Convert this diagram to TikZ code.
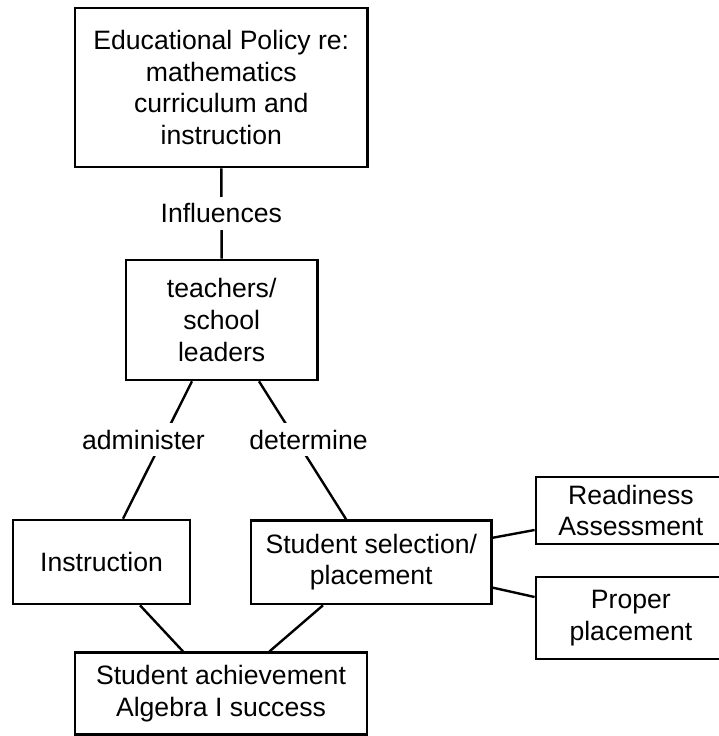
\documentclass[tikz,border=0pt]{standalone}
\usepackage{fontspec}
\setmainfont{Liberation Sans}
\usetikzlibrary{calc}
\begin{document}
\begin{tikzpicture}[x=0.5pt,y=-0.5pt,
  every node/.style={font=\fontsize{13.3}{15.8}\selectfont, align=center, inner sep=0pt},
  box/.style={draw, line width=1.3pt, rectangle},
  rel/.style={fill=white, minimum height=16.5pt, inner xsep=3pt},
  link/.style={line width=1.2pt}]
\useasboundingbox (0,0) rectangle (719,736);
\clip (0,0) rectangle (719,736);

% boxes
\node[box, minimum width=146.4pt, minimum height=79.5pt] (policy) at (221.3,87.5)
  {Educational Policy re:\\mathematics\\curriculum and\\instruction};
\node[box, minimum width=95.7pt, minimum height=60pt] (teach) at (221.7,320)
  {teachers/\\school\\leaders};
\node[box, minimum width=88.5pt, minimum height=42pt] (instr) at (101.5,562)
  {Instruction};
\node[box, minimum width=120.4pt, minimum height=41.8pt] (ssel) at (371.3,562.2)
  {Student selection/\\placement};
\node[box, minimum width=95pt, minimum height=33.5pt] (ready) at (630.9,510.5)
  {Readiness\\Assessment};
\node[box, minimum width=95pt, minimum height=41pt] (proper) at (630.9,618)
  {Proper\\placement};
\node[box, minimum width=146pt, minimum height=40.9pt] (achieve) at (221,693.6)
  {Student achievement\\Algebra I success};

% connectors
\draw[link] (policy.south) -- (teach.north);
\draw[link] ($(teach.south)+(-29.7,0)$) -- ($(instr.north)+(21.5,0)$);
\draw[link] ($(teach.south)+(37.3,0)$) -- ($(ssel.north)+(-25.3,0)$);
\draw[link] ($(instr.south)+(38.5,0)$) -- ($(achieve.north)+(-38,0)$);
\draw[link] ($(ssel.south)+(-48.3,0)$) -- ($(achieve.north)+(48.5,0)$);
\draw[link] ($(ssel.east)+(0,-24.5)$) -- ($(ready.west)+(0,19.5)$);
\draw[link] ($(ssel.east)+(0,25.5)$) -- ($(proper.west)+(0,-21)$);

% relation labels
\node[rel] (infl) at (221.3,213) {Influences};
\node[rel] (adm) at (143.5,439.5) {administer};
\node[rel] (det) at (308.5,439.5) {determine};
\end{tikzpicture}
\end{document}
